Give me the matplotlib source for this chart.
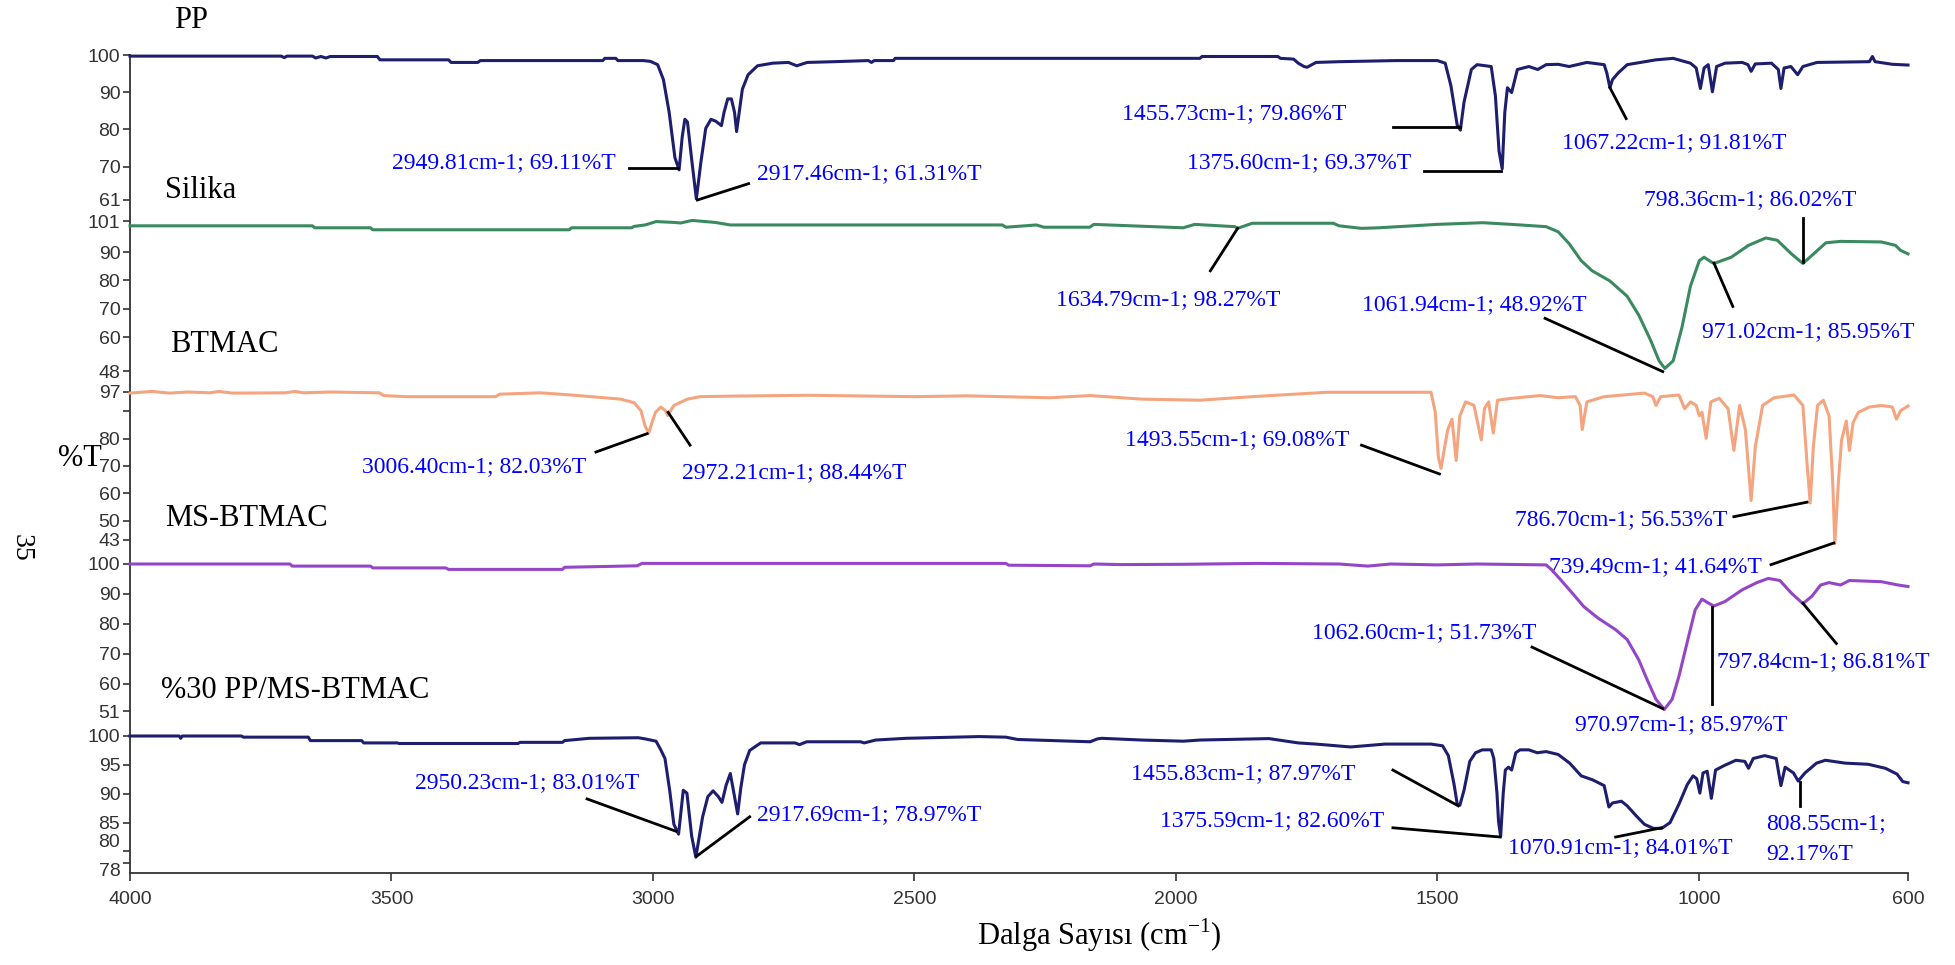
import matplotlib
matplotlib.use("Agg")
import matplotlib.pyplot as plt
from matplotlib import font_manager

# FTIR spektrumları: dalga sayısı (cm-1) ve geçirgenlik (%T)
pp_wn = [4000, 3711, 3705, 3700, 3651, 3645, 3635, 3625, 3617, 3527, 3522, 3391, 3386, 3335, 3330,
         3096, 3092, 3071, 3067, 3019, 3005, 2991, 2980, 2969, 2958, 2950, 2944, 2939, 2934, 2926,
         2917, 2908, 2899, 2889, 2880, 2869, 2864, 2857, 2850, 2844, 2840, 2835, 2829, 2818, 2800,
         2771, 2741, 2725, 2705, 2654, 2588, 2582, 2577, 2540, 2537, 1954, 1950, 1805, 1800, 1775,
         1766, 1755, 1749, 1740, 1732, 1688, 1579, 1500, 1485, 1474, 1462, 1456, 1449, 1435, 1424,
         1397, 1389, 1382, 1376, 1371, 1366, 1358, 1347, 1325, 1308, 1292, 1269, 1248, 1214, 1181,
         1176, 1170, 1165, 1154, 1137, 1082, 1049, 1016, 1005, 997, 990, 982, 974, 966, 950,
         917, 906, 900, 892, 861, 848, 843, 837, 824, 811, 801, 774, 674, 668, 663, 630, 600]
pp_t = [99.7, 99.7, 99.3, 99.7, 99.7, 99.2, 99.6, 99.2, 99.6, 99.6, 98.7, 98.7, 98.0, 98.0, 98.5,
        98.5, 99.1, 99.1, 98.5, 98.5, 98.3, 97.4, 93.4, 84.6, 72.4, 69.1, 78.0, 82.7, 82.0, 72.0,
        61.3, 71.5, 80.3, 82.7, 82.2, 81.0, 84.6, 88.2, 88.2, 84.6, 79.4, 84.6, 90.8, 94.7, 97.1,
        97.8, 98.0, 97.1, 98.0, 98.2, 98.5, 98.0, 98.5, 98.5, 99.1, 99.1, 99.6, 99.6, 99.1, 98.9,
        97.8, 96.9, 96.7, 97.4, 98.0, 98.2, 98.5, 98.5, 97.8, 91.7, 81.1, 79.8, 87.3, 96.1, 97.4,
        96.9, 89.0, 74.1, 69.4, 84.6, 91.2, 89.9, 96.1, 96.9, 96.1, 97.4, 97.5, 96.9, 98.0, 97.4,
        95.2, 91.2, 93.4, 95.2, 97.4, 98.7, 99.1, 97.8, 96.5, 91.0, 96.5, 97.4, 90.1, 96.9, 97.8,
        98.0, 97.4, 95.6, 97.6, 97.8, 96.1, 91.0, 96.5, 96.9, 94.7, 96.9, 98.0, 98.2, 99.6, 98.2, 97.5, 97.3]

silika_wn = [4000, 3651, 3647, 3540, 3536, 3160, 3156, 3041, 3036, 3015, 2994, 2960, 2947, 2925, 2881,
             2852, 2332, 2325, 2267, 2252, 2165, 2157, 2086, 1986, 1964, 1887, 1882, 1854, 1699, 1688,
             1645, 1612, 1501, 1413, 1358, 1292, 1269, 1248, 1225, 1204, 1170, 1137, 1115, 1092, 1076,
             1065, 1049, 1032, 1016, 999, 990, 977, 971, 938, 905, 872, 850, 823, 801, 784,
             757, 729, 651, 624, 614, 600]
silika_t = [99.3, 99.3, 98.6, 98.6, 97.9, 97.9, 98.6, 98.6, 99.1, 99.6, 100.8, 100.5, 100.3, 101.2, 100.5,
            99.6, 99.6, 98.8, 99.6, 98.8, 98.8, 99.8, 99.3, 98.6, 99.8, 99.0, 98.4, 100.2, 100.2, 99.3,
            98.4, 98.6, 99.8, 100.4, 99.8, 99.0, 97.2, 93.0, 87.0, 83.4, 79.8, 74.4, 67.8, 58.8, 51.6,
            48.9, 51.6, 63.6, 78.0, 87.0, 88.2, 86.6, 86.0, 88.2, 92.4, 95.0, 94.2, 89.4, 86.0, 88.8,
            93.3, 93.8, 93.6, 92.4, 90.6, 89.4]

btmac_wn = [4000, 3958, 3924, 3890, 3847, 3830, 3804, 3702, 3685, 3668, 3617, 3523, 3515, 3472, 3301,
            3293, 3216, 3156, 3062, 3036, 3023, 3015, 3008, 3002, 2995, 2985, 2976, 2972, 2960, 2934,
            2910, 2850, 2700, 2500, 2400, 2241, 2164, 2065, 1954, 1854, 1711, 1512, 1504, 1498, 1493,
            1486, 1480, 1472, 1464, 1457, 1446, 1430, 1416, 1410, 1402, 1393, 1385, 1358, 1303, 1269,
            1236, 1227, 1223, 1214, 1181, 1104, 1088, 1082, 1073, 1038, 1027, 1016, 1005, 999, 994,
            986, 977, 961, 944, 933, 922, 911, 900, 892, 878, 856, 818, 801, 793, 787,
            781, 773, 762, 751, 744, 740, 733, 727, 718, 712, 705, 695, 674, 651, 630, 622, 614, 600]
btmac_t = [96.6, 97.2, 96.6, 97.0, 96.7, 97.2, 96.6, 96.7, 97.2, 96.7, 97.0, 96.7, 95.7, 95.3, 95.3,
           96.2, 96.7, 95.9, 94.4, 93.1, 90.2, 84.6, 82.0, 85.8, 89.6, 91.5, 90.2, 88.4, 92.1, 94.4,
           95.3, 95.5, 95.8, 95.3, 95.6, 94.9, 95.7, 94.4, 94.0, 95.3, 96.9, 96.9, 89.6, 73.2, 69.1,
           77.0, 83.3, 87.1, 72.0, 88.3, 93.4, 92.1, 79.5, 90.9, 93.4, 82.0, 94.0, 94.7, 95.7, 94.9,
           95.3, 92.1, 83.3, 93.4, 95.3, 96.6, 95.3, 92.1, 95.3, 95.9, 90.9, 93.4, 92.1, 88.3, 89.6,
           80.1, 93.4, 94.7, 90.9, 75.7, 92.1, 83.3, 57.4, 77.0, 92.1, 94.9, 95.9, 92.1, 70.7, 56.5,
           77.0, 92.1, 94.0, 88.3, 64.4, 41.6, 64.4, 79.5, 86.4, 75.7, 85.8, 89.6, 91.5, 92.1, 91.5, 87.1, 90.2, 91.9]

ms_wn = [4000, 3694, 3690, 3540, 3536, 3396, 3391, 3173, 3169, 3030, 3021, 2325, 2320, 2164, 2157,
         2106, 1988, 1844, 1688, 1633, 1589, 1501, 1424, 1292, 1281, 1264, 1242, 1220, 1193, 1159,
         1137, 1115, 1099, 1082, 1066, 1051, 1038, 1021, 1007, 994, 981, 971, 950, 917, 889,
         867, 845, 823, 801, 784, 767, 751, 729, 712, 651, 619, 600]
ms_t = [100.0, 100.0, 99.3, 99.3, 98.7, 98.7, 98.2, 98.2, 98.9, 99.4, 100.2, 100.2, 99.6, 99.4, 100.0,
        99.8, 99.9, 100.2, 100.0, 99.3, 100.0, 99.7, 100.0, 99.7, 98.0, 94.7, 90.3, 85.8, 82.0, 78.1,
        74.8, 68.1, 61.5, 54.9, 51.5, 54.9, 62.6, 74.8, 84.7, 88.3, 86.9, 86.0, 87.5, 91.4, 93.8,
        95.2, 94.5, 90.3, 86.8, 89.2, 93.0, 93.8, 93.0, 94.5, 94.1, 93.0, 92.5]

ppms_wn = [4000, 3906, 3903, 3900, 3787, 3783, 3659, 3655, 3557, 3553, 3489, 3485, 3258, 3254, 3173,
           3169, 3122, 3028, 3015, 2994, 2985, 2977, 2968, 2960, 2951, 2942, 2935, 2926, 2918, 2905,
           2895, 2885, 2875, 2868, 2860, 2852, 2845, 2838, 2832, 2825, 2815, 2794, 2728, 2720, 2706,
           2603, 2596, 2574, 2516, 2376, 2325, 2303, 2231, 2164, 2150, 2142, 2065, 1986, 1954, 1822,
           1766, 1732, 1666, 1600, 1512, 1490, 1479, 1468, 1462, 1457, 1449, 1438, 1427, 1414, 1397,
           1392, 1386, 1383, 1379, 1374, 1370, 1364, 1358, 1350, 1342, 1325, 1309, 1292, 1269, 1247,
           1225, 1203, 1181, 1172, 1165, 1148, 1137, 1120, 1104, 1087, 1071, 1055, 1038, 1022, 1011,
           1004, 998, 992, 984, 976, 968, 951, 929, 912, 905, 896, 874, 852, 843, 835,
           819, 810, 797, 775, 758, 720, 676, 643, 621, 610, 600]
ppms_t = [100.0, 100.0, 99.6, 100.0, 100.0, 99.8, 99.8, 99.2, 99.2, 98.8, 98.8, 98.7, 98.7, 98.9, 98.9,
          99.2, 99.6, 99.7, 99.5, 99.1, 97.6, 96.1, 90.6, 84.7, 83.0, 90.6, 90.1, 82.7, 79.0, 86.0,
          89.5, 90.5, 89.5, 88.5, 91.5, 93.5, 90.0, 86.5, 91.0, 95.0, 97.5, 98.8, 98.8, 98.5, 99.0,
          99.0, 98.8, 99.3, 99.6, 99.9, 99.8, 99.4, 99.2, 99.0, 99.5, 99.6, 99.3, 99.1, 99.3, 99.55,
          98.8, 98.6, 98.1, 98.6, 98.6, 98.3, 96.6, 91.6, 88.2, 88.0, 90.6, 95.6, 97.1, 97.6, 97.6,
          96.1, 90.1, 85.2, 82.6, 90.1, 94.1, 94.6, 94.1, 97.1, 97.6, 97.6, 97.1, 97.3, 96.8, 95.3,
          93.1, 92.4, 91.4, 87.7, 88.4, 88.7, 87.9, 86.2, 84.7, 84.0, 84.0, 85.0, 88.2, 91.6, 93.1,
          92.6, 90.1, 93.6, 93.9, 89.2, 94.1, 94.9, 95.8, 95.6, 94.4, 96.1, 96.6, 96.1, 91.4, 94.6,
          93.6, 92.2, 93.6, 95.3, 95.8, 95.3, 95.1, 94.4, 93.4, 92.1, 91.9]

x_ticks = [4000, 3500, 3000, 2500, 2000, 1500, 1000, 600]

# (metin, metin sol kenarı cm-1, metin %T, çizgi başı (cm-1, %T), çizgi sonu (cm-1, %T))
pp_notes = [
    ("2949.81cm-1; 69.11%T", 3499, 71.1, (3045, 69.6), (2952, 69.6)),
    ("2917.46cm-1; 61.31%T", 2801, 68.0, (2915, 61.0), (2817, 65.4)),
    ("1455.73cm-1; 79.86%T", 2103, 84.2, (1585, 80.7), (1457, 80.7)),
    ("1375.60cm-1; 69.37%T", 1979, 71.1, (1525, 68.9), (1378, 68.9)),
    ("1067.22cm-1; 91.81%T", 1261, 76.3, (1170, 91.2), (1139, 82.9)),
    ("798.36cm-1; 86.02%T", 1105, 61.1, None, None),
]
silika_notes = [
    ("", 0, 0, (800, 102.0), (800, 86.4)),
    ("1634.79cm-1; 98.27%T", 2229, 73.2, (1882, 98.4), (1934, 83.4)),
    ("1061.94cm-1; 48.92%T", 1645, 71.4, (1294, 66.6), (1069, 47.8)),
    ("971.02cm-1; 85.95%T", 994, 61.8, (971, 86.1), (935, 70.8)),
]
btmac_notes = [
    ("3006.40cm-1; 82.03%T", 3557, 69.7, (3109, 75.1), (3011, 81.8)),
    ("2972.21cm-1; 88.44%T", 2944, 67.5, (2971, 89.6), (2929, 77.6)),
    ("1493.55cm-1; 69.08%T", 2097, 79.5, (1645, 77.6), (1496, 67.1)),
    ("786.70cm-1; 56.53%T", 1352, 50.5, (933, 51.5), (793, 56.8)),
    ("739.49cm-1; 41.64%T", 1286, 33.4, (862, 34.0), (742, 41.9)),
]
ms_notes = [
    ("1062.60cm-1; 51.73%T", 1739, 77.0, (1319, 72.3), (1069, 51.8)),
    ("970.97cm-1; 85.97%T", 1237, 46.6, (974, 85.8), (974, 53.5)),
    ("797.84cm-1; 86.81%T", 966, 67.6, (801, 86.9), (737, 73.5)),
]
ppms_notes = [
    ("2950.23cm-1; 83.01%T", 3455, 91.9, (3126, 89.1), (2956, 83.5)),
    ("2917.69cm-1; 78.97%T", 2801, 86.4, (2916, 79.2), (2815, 86.0)),
    ("1455.83cm-1; 87.97%T", 2086, 93.4, (1585, 94.1), (1460, 87.9)),
    ("1375.59cm-1; 82.60%T", 2031, 85.4, (1585, 84.1), (1380, 82.5)),
    ("1070.91cm-1; 84.01%T", 1364, 80.7, (1159, 82.5), (1071, 84.1)),
    ("808.55cm-1;", 872, 84.8, (806, 92.1), (806, 87.8)),
    ("92.17%T", 872, 79.4, None, None),
]

names = {f.name for f in font_manager.fontManager.ttflist}
tick_font = "Liberation Sans Narrow" if "Liberation Sans Narrow" in names else "Liberation Sans"
serif = "Liberation Serif"
plt.rcParams["mathtext.fontset"] = "custom"
plt.rcParams["mathtext.rm"] = serif

W, H = 1955, 965
X0, X1 = 130, 1908
AXIS_Y = 873

fig = plt.figure(figsize=(W / 100, H / 100), dpi=100)


def box(top, bottom):
    return [X0 / W, 1 - bottom / H, (X1 - X0) / W, (bottom - top) / H]


frame = fig.add_axes(box(55, AXIS_Y))
frame.set_xlim(4000, 600)
frame.set_ylim(0, 1)
frame.set_yticks([])
frame.set_xticks(x_ticks)
frame.set_xticklabels([str(t) for t in x_ticks], fontfamily=tick_font, fontsize=14, color="#333333")
frame.tick_params(axis="x", length=6, width=1.2, pad=7, color="#333333")
for s in ["top", "right"]:
    frame.spines[s].set_visible(False)
for s in ["left", "bottom"]:
    frame.spines[s].set_linewidth(1.3)
    frame.spines[s].set_color("#333333")

panels = [
    ("PP", pp_wn, pp_t, "#1e1e6e", (100, 55, 61, 200), [100, 90, 80, 70, 61], None, pp_notes, 21),
    ("Silika", silika_wn, silika_t, "#3b8a5f", (101, 221, 48, 371), [101, 90, 80, 70, 60, 48], None,
     silika_notes, 190),
    ("BTMAC", btmac_wn, btmac_t, "#f4a47e", (97, 392, 43, 540), [97, 90, 80, 70, 60, 50, 43],
     ["97", "", "80", "70", "60", "50", "43"], btmac_notes, 344),
    ("MS-BTMAC", ms_wn, ms_t, "#9546c6", (100, 564, 51, 711), [100, 90, 80, 70, 60, 51], None, ms_notes, 518),
    ("%30 PP/MS-BTMAC", ppms_wn, ppms_t, "#1e1e6e", (100, 736, 78, 863), [100, 95, 90, 85, 80, 78], None,
     ppms_notes, 690),
]

label_x = {"PP": 174, "Silika": 165, "BTMAC": 170, "MS-BTMAC": 165, "%30 PP/MS-BTMAC": 161}

for name, wn, t, color, (vt, yt, vb, yb), ticks, tlabels, notes, ly in panels:
    ax = fig.add_axes(box(yt, yb))
    ax.patch.set_alpha(0)
    ax.set_xlim(4000, 600)
    ax.set_ylim(vb, vt)
    ax.plot(wn, t, color=color, lw=2.2, clip_on=False, solid_joinstyle="round")
    for s in ax.spines.values():
        s.set_visible(False)
    ax.set_xticks([])
    ax.set_yticks(ticks)
    ax.set_yticklabels(tlabels if tlabels else [str(v) for v in ticks],
                       fontfamily=tick_font, fontsize=14, color="#333333")
    ax.tick_params(axis="y", length=5, width=1.2, pad=2, color="#333333")
    if name == "%30 PP/MS-BTMAC":
        # 80 ve 78 birbirine çok yakın: etiketleri hafifçe ayır
        labs = ax.get_yticklabels()
        labs[-2].set_va("bottom")
        labs[-1].set_va("top")
    for text, tx, ty, p1, p2 in notes:
        if text:
            ax.text(tx, ty, text, ha="left", va="center", color="#0000ff", fontsize=17,
                    fontfamily=serif, clip_on=False)
        if p1 is not None:
            ax.plot([p1[0], p2[0]], [p1[1], p2[1]], color="black", lw=2.0, clip_on=False)
    fig.text(label_x[name] / W, 1 - ly / H, name, ha="left", va="center", fontsize=22, fontfamily=serif)

fig.text(58 / W, 1 - 458 / H, "%T", ha="left", va="center", fontsize=22, fontfamily=serif)
fig.text(21 / W, 1 - 548 / H, "35", ha="center", va="center", fontsize=20, fontfamily=serif, rotation=-90)
fig.text(1099 / W, 1 - 935 / H, r"Dalga Sayısı (cm$^{\mathrm{-1}}$)", ha="center", va="center",
         fontsize=22, fontfamily=serif)

fig.savefig("out.png", dpi=100)
